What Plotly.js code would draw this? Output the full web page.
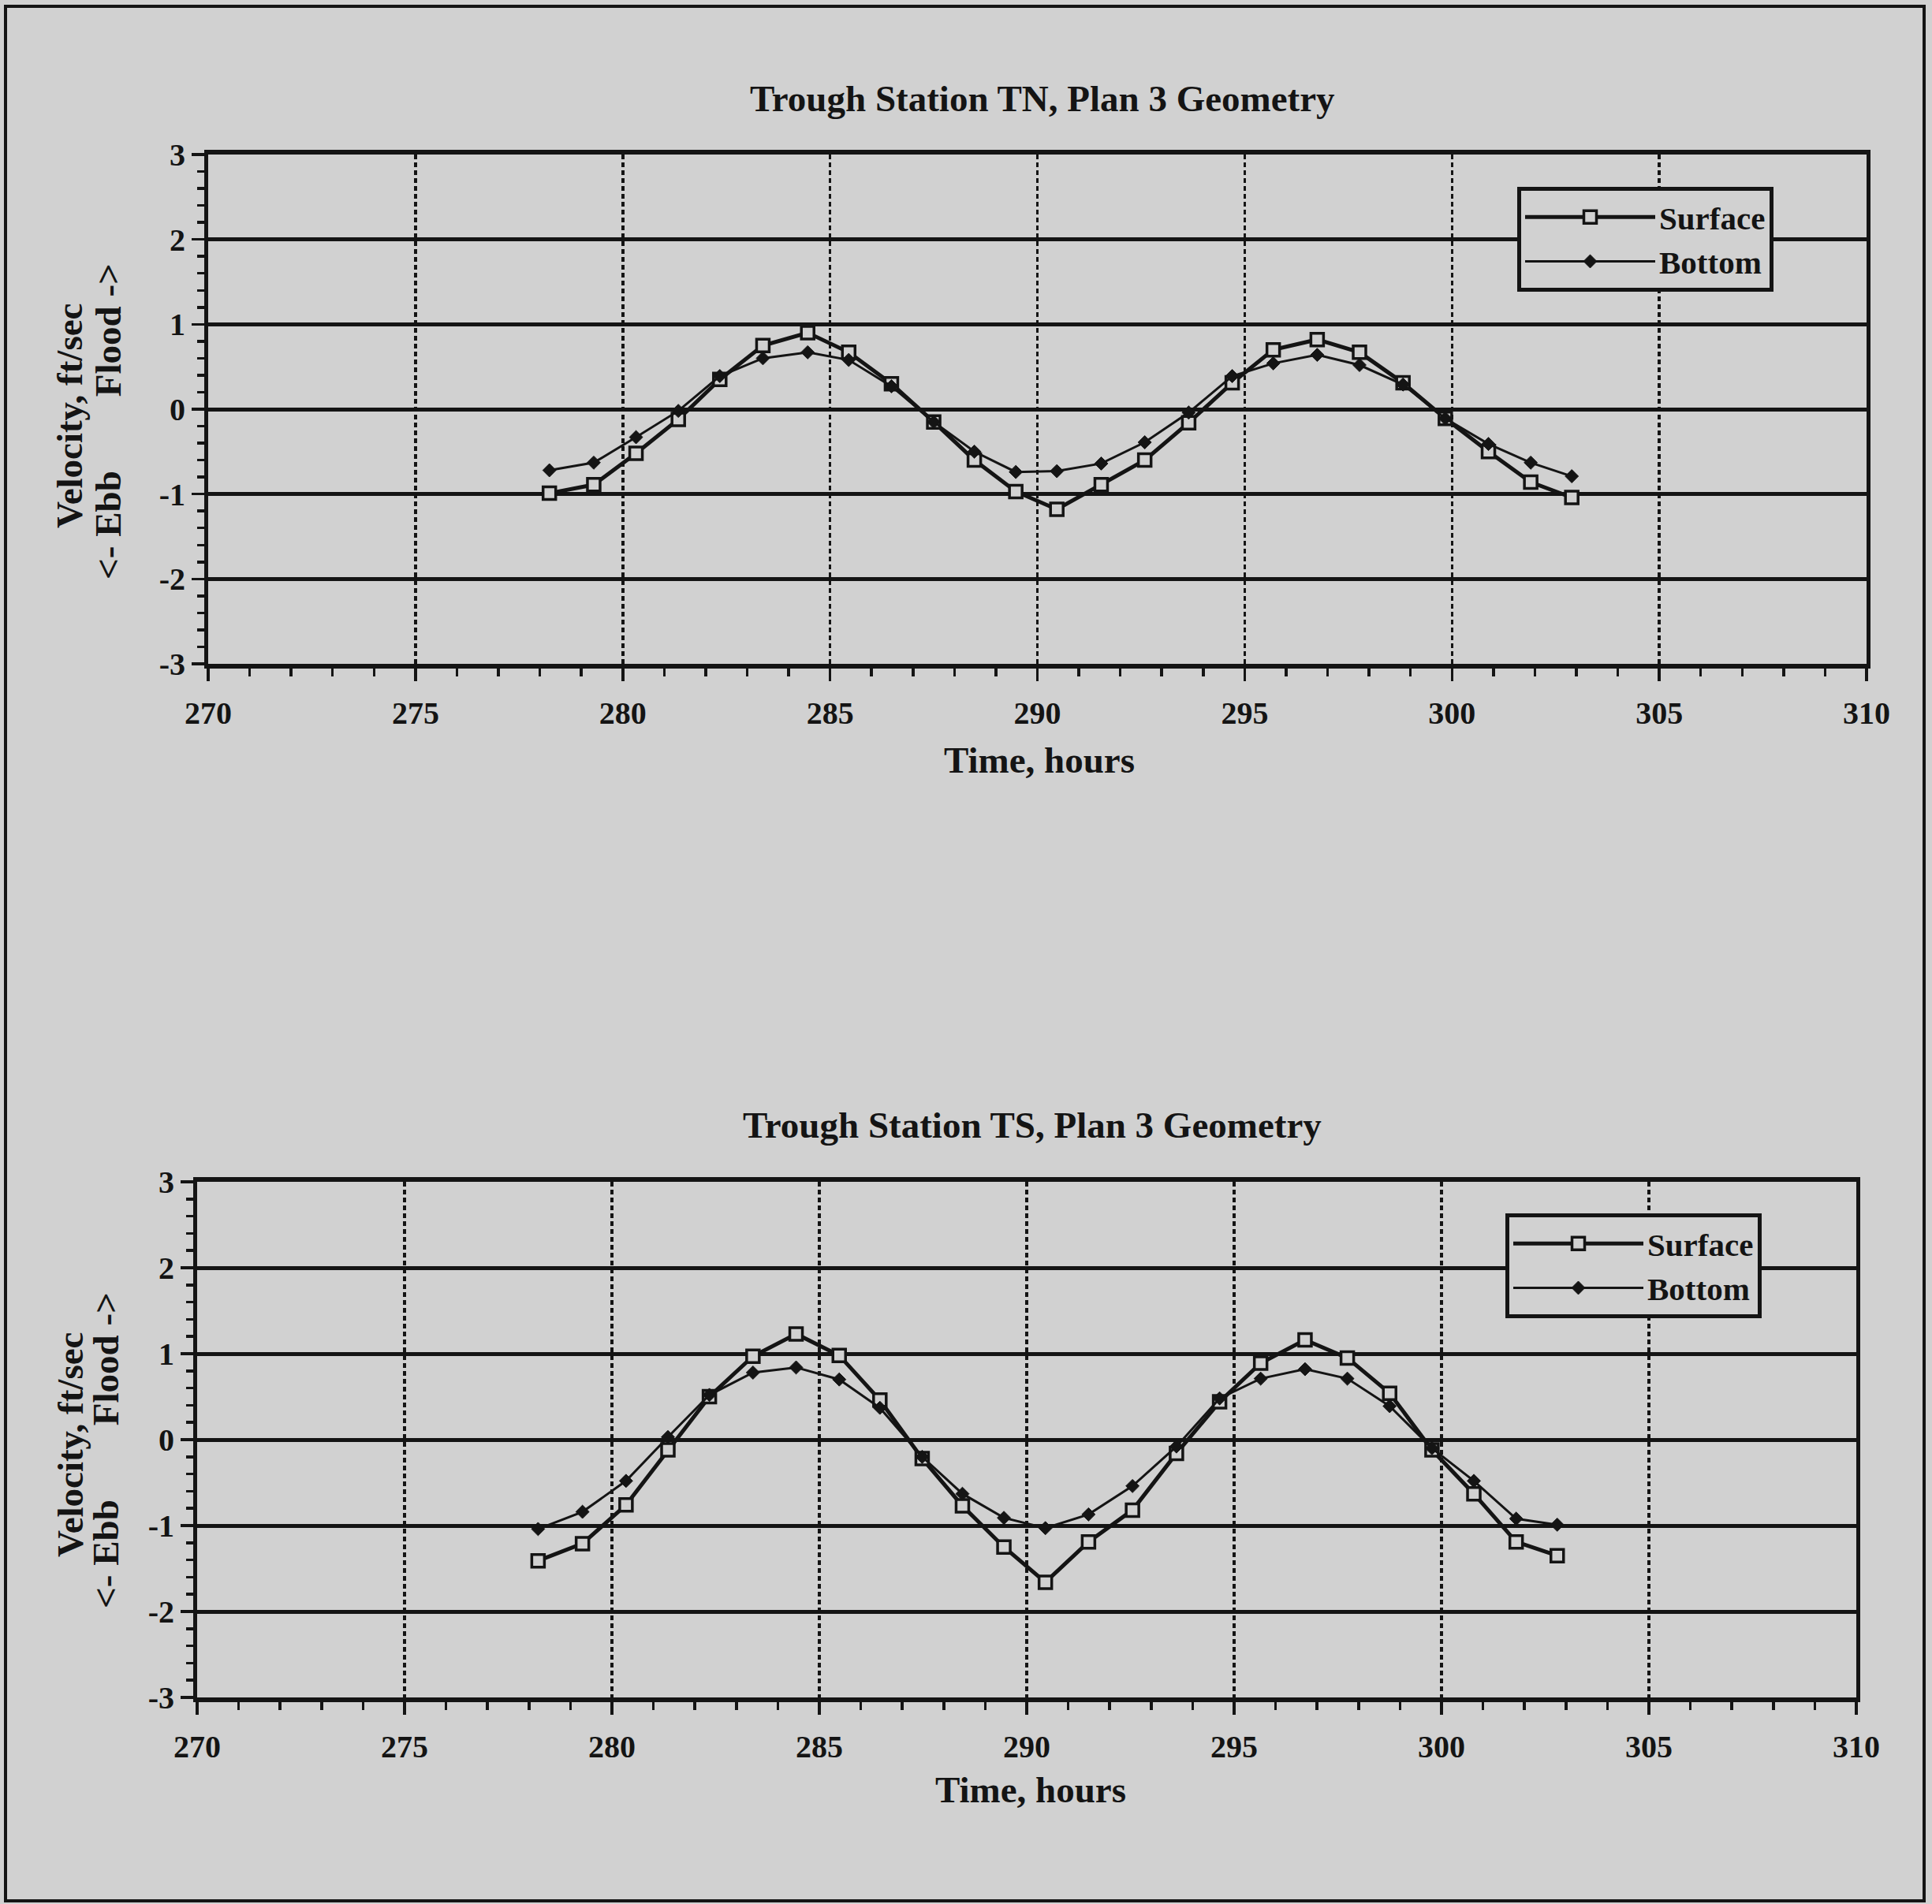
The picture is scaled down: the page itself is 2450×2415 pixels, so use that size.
<!DOCTYPE html>
<html>
<head>
<meta charset="utf-8">
<script src="https://cdn.plot.ly/plotly-3.0.1.min.js"></script>
<style>
  html, body { margin: 0; padding: 0; background: #d1d1d1; }
  #chart { width: 2450px; height: 2415px; }
</style>
</head>
<body>
<div id="chart"></div>
<script>
// ---- Data ----
const seriesNames = ["Surface", "Bottom"];
const titleTN = "Trough Station TN, Plan 3 Geometry";
const titleTS = "Trough Station TS, Plan 3 Geometry";
const xTitle = "Time, hours";
const yTitleLine1 = "Velocity, ft/sec";
const yTitleLine2 = "&lt;- Ebb\u00A0\u00A0\u00A0\u00A0\u00A0\u00A0\u00A0\u00A0Flood -&gt;";
const xTickVals = [270, 275, 280, 285, 290, 295, 300, 305, 310];
const yTickVals = [-3, -2, -1, 0, 1, 2, 3];

// Station TN
const tnTime = [278.23, 279.30, 280.32, 281.34, 282.34, 283.38, 284.46, 285.45, 286.48, 287.50, 288.48, 289.48, 290.47, 291.54, 292.59, 293.65, 294.70, 295.69, 296.75, 297.77, 298.82, 299.84, 300.88, 301.90, 302.89];
const tnSurface = [-0.99, -0.89, -0.52, -0.12, 0.35, 0.75, 0.90, 0.67, 0.30, -0.15, -0.60, -0.97, -1.18, -0.89, -0.60, -0.16, 0.31, 0.70, 0.82, 0.67, 0.31, -0.11, -0.50, -0.86, -1.04];
const tnBottom = [-0.72, -0.63, -0.33, -0.02, 0.39, 0.60, 0.67, 0.58, 0.27, -0.15, -0.50, -0.74, -0.73, -0.64, -0.39, -0.04, 0.39, 0.54, 0.64, 0.52, 0.29, -0.11, -0.41, -0.63, -0.79];

// Station TS
const tsTime = [278.22, 279.29, 280.34, 281.35, 282.35, 283.40, 284.44, 285.48, 286.46, 287.48, 288.45, 289.45, 290.45, 291.49, 292.55, 293.61, 294.65, 295.64, 296.71, 297.73, 298.75, 299.77, 300.78, 301.80, 302.79];
const tsSurface = [-1.41, -1.21, -0.76, -0.12, 0.50, 0.97, 1.23, 0.98, 0.46, -0.22, -0.77, -1.25, -1.66, -1.19, -0.82, -0.16, 0.44, 0.89, 1.16, 0.95, 0.54, -0.12, -0.63, -1.19, -1.35];
const tsBottom = [-1.04, -0.84, -0.48, 0.03, 0.52, 0.78, 0.84, 0.70, 0.37, -0.20, -0.63, -0.91, -1.03, -0.87, -0.54, -0.08, 0.48, 0.71, 0.82, 0.71, 0.39, -0.10, -0.48, -0.92, -0.99];

// ---- Styling ----
const BG = "#d1d1d1";
const INK = "#141414";
const FONT = "Liberation Serif, Times New Roman, serif";

function surfaceTrace(x, y, xa, ya, lg) {
  return {
    type: "scatter", mode: "lines+markers", name: seriesNames[0],
    x: x, y: y, xaxis: xa, yaxis: ya, legend: lg,
    line: { color: INK, width: 5 },
    marker: { symbol: "square", size: 16, color: BG, line: { color: INK, width: 3.5 } }
  };
}
function bottomTrace(x, y, xa, ya, lg) {
  return {
    type: "scatter", mode: "lines+markers", name: seriesNames[1],
    x: x, y: y, xaxis: xa, yaxis: ya, legend: lg,
    line: { color: INK, width: 3 },
    marker: { symbol: "diamond", size: 13, color: INK, line: { color: INK, width: 1 } }
  };
}

const data = [
  surfaceTrace(tnTime, tnSurface, "x", "y", "legend"),
  bottomTrace(tnTime, tnBottom, "x", "y", "legend"),
  surfaceTrace(tsTime, tsSurface, "x2", "y2", "legend2"),
  bottomTrace(tsTime, tsBottom, "x2", "y2", "legend2")
];

function xAxis(domain, anchor) {
  return {
    domain: domain, anchor: anchor, range: [270, 310],
    tickmode: "array", tickvals: xTickVals, ticktext: xTickVals.map(String),
    ticks: "outside", ticklen: 16, tickwidth: 3.5, tickcolor: INK,
    ticklabelstandoff: 6,
    showline: true, linewidth: 6, linecolor: INK, mirror: true,
    showgrid: true, gridcolor: INK, gridwidth: 3.5, griddash: "6px,4px",
    zeroline: false,
    minor: { dtick: 1, tick0: 270, ticks: "outside", ticklen: 10, tickwidth: 3.5, tickcolor: INK, showgrid: false },
    tickfont: { family: FONT, size: 40, color: INK, weight: "bold" },
    fixedrange: true
  };
}
function yAxis(domain, anchor) {
  return {
    domain: domain, anchor: anchor, range: [-3, 3],
    tickmode: "array", tickvals: yTickVals, ticktext: yTickVals.map(String),
    ticks: "outside", ticklen: 16, tickwidth: 3.5, tickcolor: INK,
    ticklabelstandoff: 0,
    showline: true, linewidth: 5, linecolor: INK, mirror: true,
    showgrid: true, gridcolor: INK, gridwidth: 5,
    zeroline: false,
    minor: { dtick: 0.2, tick0: -3, ticks: "outside", ticklen: 9, tickwidth: 3.5, tickcolor: INK, showgrid: false },
    tickfont: { family: FONT, size: 40, color: INK, weight: "bold" },
    fixedrange: true
  };
}

const W = 2450, H = 2415;
const px = v => v / W;
const py = v => 1 - v / H;

function ann(text, x, y, size, angle) {
  return {
    xref: "paper", yref: "paper", x: x, y: y, text: text, showarrow: false,
    xanchor: "center", yanchor: "middle", textangle: angle || 0,
    font: { family: FONT, size: size, color: INK, weight: "bold" }
  };
}

function legendSpec(xPix, yPix) {
  return {
    x: px(xPix), y: py(yPix), xanchor: "left", yanchor: "top",
    bgcolor: BG, bordercolor: INK, borderwidth: 5,
    font: { family: FONT, size: 41, color: INK, weight: "bold" },
    itemwidth: 165, tracegroupgap: 0, itemclick: false, itemdoubleclick: false
  };
}

const layout = {
  width: W, height: H,
  margin: { l: 0, r: 0, t: 0, b: 0 },
  paper_bgcolor: BG, plot_bgcolor: BG,
  font: { family: FONT, color: INK },
  showlegend: true,
  xaxis: xAxis([px(264), px(2367)], "y"),
  yaxis: yAxis([py(842), py(196)], "x"),
  xaxis2: xAxis([px(250), px(2354)], "y2"),
  yaxis2: yAxis([py(2153), py(1499)], "x2"),
  legend: legendSpec(1924, 237),
  legend2: legendSpec(1909, 1539),
  annotations: [
    ann(titleTN, px(1322), py(125), 47),
    ann(titleTS, px(1309), py(1427), 47),
    ann(xTitle, px(1318), py(964), 47),
    ann(xTitle, px(1307), py(2270), 47),
    ann(yTitleLine1, px(88), py(528), 47, -90),
    ann(yTitleLine2, px(137), py(535), 47, -90),
    ann(yTitleLine1, px(89), py(1833), 47, -90),
    ann(yTitleLine2, px(134), py(1840), 47, -90)
  ],
  shapes: [
    { type: "rect", xref: "paper", yref: "paper",
      x0: px(7), x1: px(2440), y0: py(2411), y1: py(8),
      line: { color: INK, width: 4 }, fillcolor: "rgba(0,0,0,0)" }
  ]
};

Plotly.newPlot("chart", data, layout, { displayModeBar: false, staticPlot: true });
</script>
</body>
</html>
